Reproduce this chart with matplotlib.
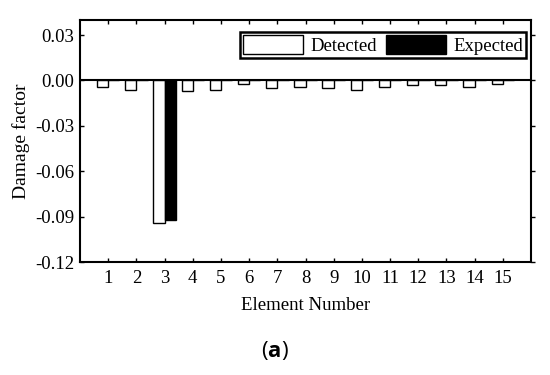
import matplotlib
import matplotlib.pyplot as plt
from matplotlib.lines import TICKRIGHT
import numpy as np

matplotlib.use("Agg")

plt.rcParams["font.family"] = ["Liberation Serif", "DejaVu Serif"]
plt.rcParams["axes.unicode_minus"] = False
plt.rcParams["mathtext.fontset"] = "custom"
plt.rcParams["mathtext.rm"] = "Open Sans"
plt.rcParams["mathtext.bf"] = "Open Sans:bold"

# ── data ─────────────────────────────────────────────────────────────────────
elements = np.arange(1, 16)
detected = [-0.004, -0.006, -0.094, -0.007, -0.006, -0.002, -0.005, -0.004,
            -0.005, -0.006, -0.004, -0.003, -0.003, -0.004, -0.002]
expected = [0, 0, -0.092, 0, 0, 0, 0, 0, 0, 0, 0, 0, 0, 0, 0]
y_ticks = [-0.12, -0.09, -0.06, -0.03, 0.00, 0.03]

# ── plot ─────────────────────────────────────────────────────────────────────
fig = plt.figure(figsize=(5.5, 3.75), dpi=100)
ax = fig.add_axes([0.1455, 0.3013, 0.82, 0.6454])

w = 0.4
ax.bar(elements - w / 2, detected, w, facecolor="white", edgecolor="black",
       linewidth=1.0, label="Detected")
ax.bar(elements + w / 2, expected, w, facecolor="black", edgecolor="black",
       linewidth=1.0, label="Expected")
ax.axhline(0, color="black", linewidth=1.5)

ax.set_xlim(0, 16)
ax.set_ylim(-0.12, 0.04)
ax.set_xticks(elements)
ax.set_yticks(y_ticks)
ax.set_yticklabels([f"{v:.2f}" for v in y_ticks])
ax.tick_params(axis="both", labelsize=13.5, direction="in", length=3, width=1,
               top=True, pad=6)
ax.tick_params(axis="y", right=True, pad=4)
for s in ax.spines.values():
    s.set_linewidth(1.5)

ax.set_xlabel("Element Number", fontsize=13.5, labelpad=7)
ax.set_ylabel("Damage factor", fontsize=14, labelpad=4)

leg = ax.legend(loc="upper right", bbox_to_anchor=(0.989, 0.95), ncol=2,
                fontsize=13.5, fancybox=False, edgecolor="black", framealpha=1,
                handlelength=3.2, handleheight=1.2, borderpad=0.15,
                columnspacing=0.5, handletextpad=0.4, borderaxespad=0)
leg.get_frame().set_linewidth(1.8)

fig.text(0.5, 0.065, r"($\mathbf{a}$)", ha="center", va="center", fontsize=16,
         family="Open Sans")

# right-hand ticks point outward, as in the original
for t in ax.yaxis.get_major_ticks():
    t.tick2line.set_marker(TICKRIGHT)

fig.savefig("out.png", dpi=100)
